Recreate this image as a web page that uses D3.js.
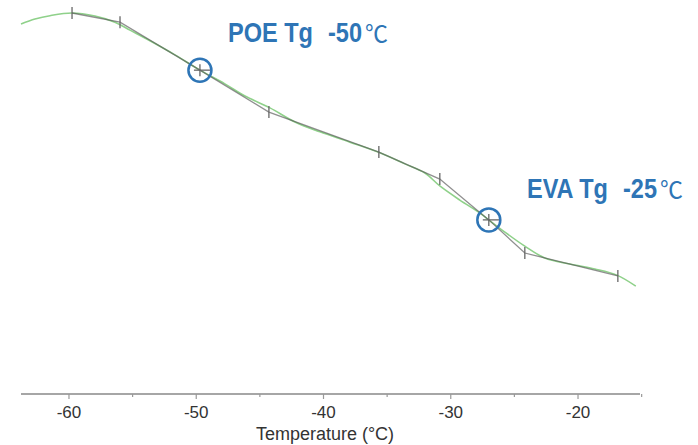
<!DOCTYPE html>
<html>
<head>
<meta charset="utf-8">
<script src="https://cdn.jsdelivr.net/npm/d3@7"></script>
<style>
    body { margin: 0; background: #fff; }
    svg { display: block; }
    .tick-label { font-family: "Liberation Sans", Arial, sans-serif; font-size: 17px; fill: #333; }
    .axis-title { font-family: "Liberation Sans", Arial, sans-serif; font-size: 18px; fill: #333; }
    .tg-main { font-family: "Liberation Sans", Arial, sans-serif; font-weight: bold; font-size: 28px; fill: #2e75b6; }
    .tg-unit { font-family: "Noto Sans CJK SC", "Noto Sans", sans-serif; font-weight: normal; font-size: 23px; fill: #2e75b6; }
</style>
</head>
<body>
<div id="chart"></div>
<script>
// TMA curve, POE/EVA glass transition
// smoothed measured curve (green)
const curveTemp = [-63.77, -62.67, -61.49, -59.76, -57.96, -56.39, -55.21, -53.64, -51.67, -49.71,
    -47.75, -46.17, -44.21, -42.25, -40.28, -37.93, -35.57, -33.61, -32.03, -30.86,
    -29.29, -27.71, -27.01, -25.75, -24.18, -22.61, -20.64, -18.68, -16.95, -15.46];
const curveValue = [97.1, 98.4, 99.3, 100.0, 99.2, 97.6, 95.5, 92.7, 89.0, 85.0,
    81.4, 78.2, 75.1, 71.4, 68.8, 66.1, 63.3, 60.4, 58.0, 54.6,
    50.9, 47.5, 45.7, 42.5, 38.8, 35.7, 34.1, 32.8, 31.2, 28.3];

// fitted tangent points (grey polyline with markers)
const markerTemp = [-59.76, -55.99, -49.71, -44.29, -35.65, -30.86, -27.01, -24.18, -16.87];
const markerValue = [100.0, 97.6, 85.0, 74.0, 63.5, 56.4, 45.7, 37.0, 31.0];

// Tg annotations: index of marker that gets the circle
const tgMarkerIndex = [2, 6];
const tgName = ['POE Tg', 'EVA Tg'];
const tgValue = ['-50', '-25'];

const xTicks = [-60, -50, -40, -30, -20];
const xMinorTicks = [-55, -45, -35, -25, -15];

const width = 698;
const height = 445;
const axisY = 394;

const svg = d3.select('#chart')
    .append('svg')
    .attr('width', width)
    .attr('height', height);

const x = d3.scaleLinear()
    .domain([-63.77, -15.13])
    .range([21, 640]);

const y = d3.scaleLinear()
    .domain([0, 100])
    .range([axisY, 13]);

// x axis line and ticks
svg.append('line')
    .attr('x1', x.range()[0])
    .attr('x2', x.range()[1])
    .attr('y1', axisY)
    .attr('y2', axisY)
    .style('stroke', '#a6a6a6')
    .style('stroke-width', 2);

svg.selectAll('.major-tick')
    .data(xTicks)
    .enter()
    .append('line')
    .attr('x1', d => x(d))
    .attr('x2', d => x(d))
    .attr('y1', axisY)
    .attr('y2', axisY + 5)
    .style('stroke', '#999')
    .style('stroke-width', 1.2);

svg.selectAll('.minor-tick')
    .data(xMinorTicks)
    .enter()
    .append('line')
    .attr('x1', d => x(d))
    .attr('x2', d => x(d))
    .attr('y1', axisY)
    .attr('y2', axisY + 3)
    .style('stroke', '#999')
    .style('stroke-width', 1.2);

svg.selectAll('.tick-label')
    .data(xTicks)
    .enter()
    .append('text')
    .attr('class', 'tick-label')
    .attr('x', d => x(d))
    .attr('y', 418)
    .attr('text-anchor', 'middle')
    .text(d => d);

svg.append('text')
    .attr('class', 'axis-title')
    .attr('x', 325)
    .attr('y', 440)
    .attr('text-anchor', 'middle')
    .text('Temperature (°C)');

// green curve
const curve = curveTemp.map((t, i) => [t, curveValue[i]]);
const lineGen = d3.line()
    .x(d => x(d[0]))
    .y(d => y(d[1]))
    .curve(d3.curveCatmullRom.alpha(0.5));

svg.append('path')
    .datum(curve)
    .attr('d', lineGen)
    .style('fill', 'none')
    .style('stroke', '#8fd18a')
    .style('stroke-width', 1.6);

// grey polyline
const markers = markerTemp.map((t, i) => [t, markerValue[i]]);
svg.append('path')
    .datum(markers)
    .attr('d', d3.line().x(d => x(d[0])).y(d => y(d[1])))
    .style('fill', 'none')
    .style('stroke', '#555')
    .style('stroke-opacity', 0.65)
    .style('stroke-width', 1.3);

svg.selectAll('.marker')
    .data(markers)
    .enter()
    .append('line')
    .attr('x1', d => x(d[0]))
    .attr('x2', d => x(d[0]))
    .attr('y1', d => y(d[1]) - 6)
    .attr('y2', d => y(d[1]) + 6)
    .style('stroke', '#666')
    .style('stroke-width', 1.3);

// Tg circles and labels (bold face squeezed horizontally, like a narrow font)
const labelPos = [[228, 42], [527, 198]];
const nameWidth = [85, 81];
tgMarkerIndex.forEach((mi, k) => {
    const cx = x(markers[mi][0]);
    const cy = y(markers[mi][1]);

    svg.append('line')
        .attr('x1', cx - 6)
        .attr('x2', cx + 11)
        .attr('y1', cy)
        .attr('y2', cy)
        .style('stroke', '#666')
        .style('stroke-width', 1.3);

    svg.append('circle')
        .attr('cx', cx)
        .attr('cy', cy)
        .attr('r', 11.5)
        .style('fill', 'none')
        .style('stroke', '#2e75b6')
        .style('stroke-width', 2.5);

    const g = svg.append('g');
    const name = g.append('text')
        .attr('class', 'tg-main')
        .attr('x', 0)
        .attr('y', 0)
        .text(tgName[k]);
    const sx = nameWidth[k] / name.node().getComputedTextLength();
    const val = g.append('text')
        .attr('class', 'tg-main')
        .attr('x', (nameWidth[k] + 15) / sx)
        .attr('y', 0)
        .text(tgValue[k]);
    g.attr('transform', `translate(${labelPos[k][0]},${labelPos[k][1]}) scale(${sx},1)`);

    const valEnd = labelPos[k][0] + nameWidth[k] + 15 + val.node().getComputedTextLength() * sx;
    svg.append('text')
        .attr('class', 'tg-unit')
        .attr('x', valEnd + 3)
        .attr('y', labelPos[k][1])
        .text('℃');
});
</script>
</body>
</html>
